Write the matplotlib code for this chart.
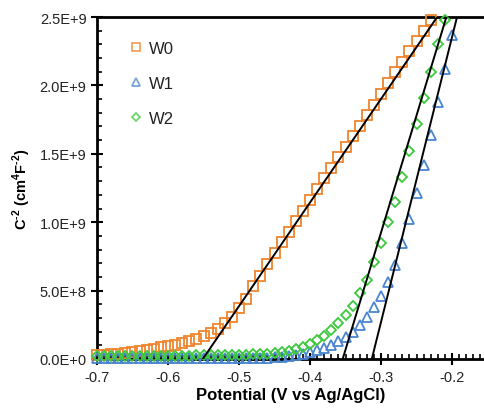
import numpy as np
import matplotlib.pyplot as plt
from matplotlib.ticker import MultipleLocator, FuncFormatter

plt.rcParams["font.family"] = ["Liberation Sans", "DejaVu Sans"]
plt.rcParams["mathtext.fontset"] = "custom"
plt.rcParams["mathtext.rm"] = "Liberation Sans:bold"
plt.rcParams["mathtext.bf"] = "Liberation Sans:bold"
plt.rcParams["axes.unicode_minus"] = False

# potential (V vs Ag/AgCl) and C^-2 values (1e9 cm^4 F^-2)
v_w0 = np.round(np.arange(-0.70, -0.225, 0.01), 2)
c_w0 = [0.030, 0.030, 0.035, 0.040, 0.045, 0.050, 0.055, 0.065, 0.075, 0.085,
        0.095, 0.105, 0.115, 0.130, 0.145, 0.165, 0.190, 0.220, 0.260, 0.310,
        0.370, 0.440, 0.530, 0.610, 0.695, 0.775, 0.855, 0.930, 1.010, 1.085,
        1.165, 1.240, 1.320, 1.395, 1.475, 1.550, 1.630, 1.705, 1.785, 1.860,
        1.940, 2.015, 2.095, 2.170, 2.250, 2.325, 2.400, 2.475]

v_w1 = np.round(np.arange(-0.70, -0.195, 0.01), 2)
c_w1 = [0.010, 0.010, 0.010, 0.010, 0.010, 0.010, 0.010, 0.010, 0.010, 0.010,
        0.010, 0.010, 0.010, 0.010, 0.010, 0.010, 0.010, 0.010, 0.010, 0.010,
        0.010, 0.010, 0.010, 0.010, 0.010, 0.012, 0.015, 0.020, 0.030, 0.040,
        0.050, 0.065, 0.080, 0.100, 0.130, 0.160, 0.200, 0.250, 0.310, 0.380,
        0.460, 0.560, 0.690, 0.850, 1.020, 1.210, 1.420, 1.640, 1.880, 2.120,
        2.370]

v_w2 = np.round(np.arange(-0.70, -0.205, 0.01), 2)
c_w2 = [0.025, 0.025, 0.025, 0.025, 0.025, 0.025, 0.025, 0.025, 0.025, 0.025,
        0.025, 0.025, 0.025, 0.025, 0.027, 0.028, 0.029, 0.030, 0.030, 0.030,
        0.031, 0.032, 0.033, 0.035, 0.040, 0.045, 0.050, 0.060, 0.075, 0.090,
        0.110, 0.140, 0.170, 0.210, 0.260, 0.320, 0.390, 0.480, 0.580, 0.710,
        0.850, 1.000, 1.150, 1.330, 1.520, 1.720, 1.910, 2.100, 2.300, 2.480]

# Mott-Schottky linear fits: x-intercept and potential where the fit reaches 2.5E+9
fit_x0 = [-0.551, -0.313, -0.354]
fit_x1 = [-0.221, -0.193, -0.208]
fit_y1 = 2.5

colors = ["#F0852D", "#4A86D0", "#3DC83D"]
labels = ["W0", "W1", "W2"]
markers = ["s", "^", "D"]
msizes = [7.0, 7.5, 5.5]

fig = plt.figure(figsize=(4.84, 4.10), dpi=100)
ax = fig.add_axes([0.2004, 0.122, 0.7996, 0.834])

for v, c, col, lab, mk, ms in zip([v_w0, v_w1, v_w2], [c_w0, c_w1, c_w2],
                                  colors, labels, markers, msizes):
    ax.plot(v, np.array(c) * 1e9, linestyle="none", marker=mk, ms=ms,
            mfc="none", mec=col, mew=1.3, label=lab, clip_on=False, zorder=3)

for x0, x1 in zip(fit_x0, fit_x1):
    ax.plot([x0, x1], [0, fit_y1 * 1e9], color="black", lw=1.4, zorder=4)

ax.set_xlim(-0.7, -0.155)
ax.set_ylim(0, 2.5e9)

ax.xaxis.set_major_locator(MultipleLocator(0.1))
ax.xaxis.set_minor_locator(MultipleLocator(0.01))
ax.yaxis.set_major_locator(MultipleLocator(5e8))
ax.yaxis.set_minor_locator(MultipleLocator(1e8))
ax.xaxis.set_major_formatter(FuncFormatter(lambda x, p: f"{x:.1f}"))


def sci(y, p):
    if y == 0:
        return "0.0E+0"
    e = int(np.floor(np.log10(abs(y)) + 1e-9))
    return f"{y / 10**e:.1f}E+{e}"


ax.yaxis.set_major_formatter(FuncFormatter(sci))

ax.tick_params(which="major", direction="inout", length=8, width=1.5,
               labelsize=10.5, colors="black", labelcolor="#222222")
ax.tick_params(which="minor", direction="in", length=3.5, width=1.2)
ax.tick_params(axis="x", which="major", pad=4)

for s in ["left", "bottom", "top"]:
    ax.spines[s].set_linewidth(2.0)
ax.spines["right"].set_visible(False)

ax.set_xlabel("Potential (V vs Ag/AgCl)", fontsize=12, fontweight="bold",
              labelpad=2)
ax.set_ylabel("C$^{\\text{-2}}$ (cm$^{\\text{4}}$F$^{\\text{-2}}$)",
              fontsize=10.5, fontweight="bold", labelpad=5)

leg = ax.legend(loc="upper left", bbox_to_anchor=(0.045, 0.975), frameon=False,
                fontsize=12, markerscale=0.75, handlelength=0.8,
                handletextpad=0.4, labelspacing=1.2)
for t in leg.get_texts():
    t.set_color("#222222")
for h in leg.legend_handles:
    h.set_alpha(0.75)

fig.savefig("out.png", dpi=100)
